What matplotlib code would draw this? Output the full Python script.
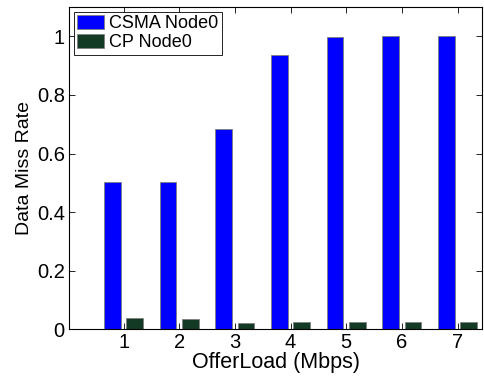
import numpy as np
import matplotlib
matplotlib.use("Agg")
import matplotlib.pyplot as plt

loads = [1, 2, 3, 4, 5, 6, 7]
csma_node0 = [0.502, 0.502, 0.684, 0.936, 0.998, 1.0, 1.0]
cp_node0 = [0.038, 0.035, 0.022, 0.026, 0.024, 0.024, 0.024]

plt.rcParams['font.family'] = ['Liberation Sans', 'DejaVu Sans']

fig = plt.figure(figsize=(4.84, 3.81), dpi=100)
ax = fig.add_axes([0.1426, 0.1357, 0.8534, 0.8459])

x = np.array(loads)
w = 0.3
ax.bar(x - 0.2, csma_node0, w, color='#0000ff', edgecolor='#7f7f7f',
       linewidth=0.6, label='CSMA Node0')
ax.bar(x + 0.2, cp_node0, w, color='#123a24', edgecolor='#7f7f7f',
       linewidth=0.6, label='CP Node0')

ax.set_xlim(0.02, 7.44)
ax.set_ylim(0, 1.1)
ax.set_xticks(loads)
ax.set_yticks([0, 0.2, 0.4, 0.6, 0.8, 1])
ax.set_yticklabels(['0', '0.2', '0.4', '0.6', '0.8', '1'])
ax.tick_params(direction='in', top=True, right=True, labelsize=14.5,
               length=4, width=0.6, pad=3)
for s in ax.spines.values():
    s.set_linewidth(0.8)

ax.set_xlabel('OfferLoad (Mbps)', fontsize=15.5, labelpad=0)
ax.set_ylabel('Data Miss Rate', fontsize=14, labelpad=3)

leg = ax.legend(loc='upper left', fontsize=13, fancybox=False, framealpha=1,
                edgecolor='black', handlelength=1.5, handleheight=0.8,
                handletextpad=0.25, borderpad=0.2, labelspacing=0.1,
                borderaxespad=0.25)
leg.get_frame().set_linewidth(0.6)

fig.savefig('out.png', dpi=100)
